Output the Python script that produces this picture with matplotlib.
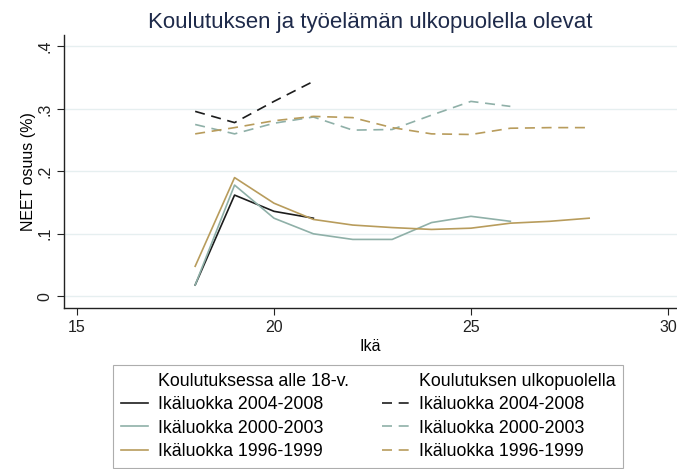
import matplotlib
matplotlib.use('Agg')
import matplotlib.pyplot as plt
from matplotlib.lines import Line2D

plt.rcParams['font.family'] = ['Liberation Sans', 'DejaVu Sans']

# ages and NEET shares per cohort
age_0408 = [18, 19, 20, 21]
age_0003 = [18, 19, 20, 21, 22, 23, 24, 25, 26]
age_9699 = [18, 19, 20, 21, 22, 23, 24, 25, 26, 27, 28]

# in education under 18 (solid)
edu_0408 = [0.018, 0.162, 0.136, 0.125]
edu_0003 = [0.018, 0.178, 0.125, 0.100, 0.091, 0.091, 0.118, 0.128, 0.120]
edu_9699 = [0.048, 0.190, 0.149, 0.123, 0.114, 0.110, 0.107, 0.109, 0.117, 0.120, 0.125]

# outside education (dashed)
out_0408 = [0.296, 0.278, 0.312, 0.344]
out_0003 = [0.275, 0.260, 0.277, 0.287, 0.266, 0.267, 0.290, 0.312, 0.304]
out_9699 = [0.260, 0.270, 0.281, 0.288, 0.286, 0.270, 0.260, 0.259, 0.269, 0.270, 0.270]

labels = ['Ikäluokka 2004-2008', 'Ikäluokka 2000-2003', 'Ikäluokka 1996-1999']
colors = ['#1c1c1c', '#8fb0a8', '#b89c5c']
dash = (0, (6, 4))

fig = plt.figure(figsize=(6.77, 4.69), dpi=100)
ax = fig.add_axes([0.0945, 0.343, 0.9055, 0.582])

ages = [age_0408, age_0003, age_9699]
solid = [edu_0408, edu_0003, edu_9699]
dashed = [out_0408, out_0003, out_9699]
for a, s, d, c in zip(ages, solid, dashed, colors):
    ax.plot(a, s, color=c, lw=1.2)
    ax.plot(a, d, color=c, lw=1.2, ls=dash)

ax.set_xlim(14.67, 30.23)
ax.set_ylim(-0.019, 0.418)
ax.set_xticks([15, 20, 25, 30])
ax.set_yticks([0, 0.1, 0.2, 0.3, 0.4])
ax.set_yticklabels(['0', '.1', '.2', '.3', '.4'], rotation=90, va='center')
ax.tick_params(labelsize=11.5, length=5, width=0.8, colors='#222222')
ax.grid(axis='y', color='#e6eff0', lw=1)
ax.set_axisbelow(True)
for sp in ['top', 'right']:
    ax.spines[sp].set_visible(False)
for sp in ['left', 'bottom']:
    ax.spines[sp].set_color('#222222')
    ax.spines[sp].set_linewidth(1.0)

ax.set_xlabel('Ikä', fontsize=11.5, labelpad=3)
ax.set_ylabel('NEET osuus (%)', fontsize=11.5, labelpad=1)
ax.set_title('Koulutuksen ja työelämän ulkopuolella olevat', fontsize=16,
             color='#1e2a4a', pad=5)

blank = Line2D([], [], color='none')
handles = [blank] + [Line2D([], [], color=c, lw=1.2) for c in colors] \
    + [blank] + [Line2D([], [], color=c, lw=1.2, ls=dash) for c in colors]
texts = ['Koulutuksessa alle 18-v.'] + labels + ['Koulutuksen ulkopuolella'] + labels
leg = fig.legend(handles, texts, ncol=2, loc='upper left',
                 bbox_to_anchor=(0.167, 0.222), borderaxespad=0,
                 fontsize=12.8, frameon=True, fancybox=False,
                 edgecolor='#999999', handlelength=1.5,
                 handletextpad=0.55, columnspacing=1.9, labelspacing=0.36,
                 borderpad=0.45)
leg.get_frame().set_linewidth(0.8)

fig.savefig('out.png', dpi=100)
